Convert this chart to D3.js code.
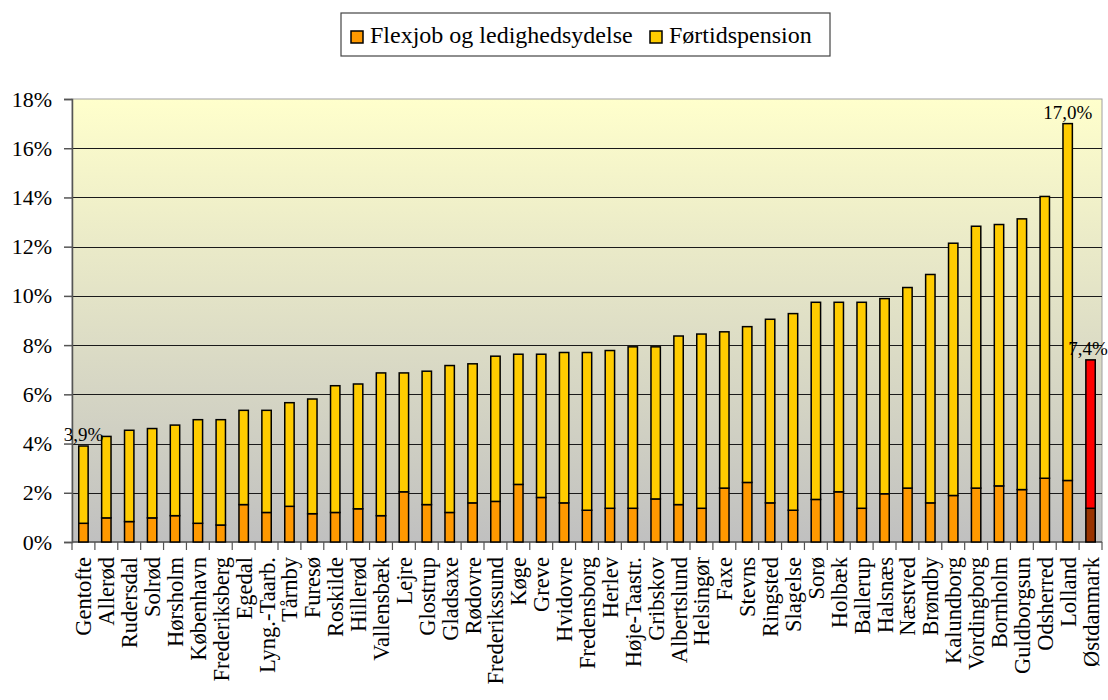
<!DOCTYPE html>
<meta charset="utf-8">
<script src="https://d3js.org/d3.v7.min.js"></script>
<style>
    body { margin: 0; background: #fff; }
    svg text { font-family: "Liberation Serif", "Times New Roman", serif !important; fill: #000; }
</style>
<body>
<div id="chart"></div>
<script>
    const kommuner = ["Gentofte", "Allerød", "Rudersdal", "Solrød", "Hørsholm", "København", "Frederiksberg",
        "Egedal", "Lyng.-Taarb.", "Tårnby", "Furesø", "Roskilde", "Hillerød", "Vallensbæk", "Lejre", "Glostrup",
        "Gladsaxe", "Rødovre", "Frederikssund", "Køge", "Greve", "Hvidovre", "Fredensborg", "Herlev",
        "Høje-Taastr.", "Gribskov", "Albertslund", "Helsingør", "Faxe", "Stevns", "Ringsted", "Slagelse", "Sorø",
        "Holbæk", "Ballerup", "Halsnæs", "Næstved", "Brøndby", "Kalundborg", "Vordingborg", "Bornholm",
        "Guldborgsun", "Odsherred", "Lolland", "Østdanmark"];

    // Flexjob og ledighedsydelse, pct. af befolkningen
    const flexjob = [0.76, 0.98, 0.83, 0.98, 1.07, 0.76, 0.69, 1.52, 1.20, 1.45, 1.15, 1.20, 1.35, 1.07, 2.04,
        1.52, 1.20, 1.59, 1.65, 2.34, 1.81, 1.59, 1.29, 1.37, 1.37, 1.75, 1.52, 1.37, 2.19, 2.42, 1.59, 1.29,
        1.73, 2.04, 1.37, 1.96, 2.19, 1.59, 1.89, 2.19, 2.28, 2.13, 2.59, 2.50, 1.37];

    // Førtidspension, pct. af befolkningen
    const fortid = [3.14, 3.31, 3.71, 3.63, 3.68, 4.21, 4.28, 3.83, 4.15, 4.21, 4.66, 5.15, 5.07, 5.80, 4.83,
        5.42, 5.97, 5.65, 5.90, 5.29, 5.82, 6.11, 6.41, 6.41, 6.56, 6.18, 6.85, 7.08, 6.35, 6.33, 7.46, 7.99,
        8.01, 7.70, 8.37, 7.93, 8.15, 9.28, 10.25, 10.64, 10.62, 11.00, 11.45, 14.50, 6.03];

    const yTicks = [0, 2, 4, 6, 8, 10, 12, 14, 16, 18];
    const labelled = ["Gentofte", "Lolland", "Østdanmark"];
    const total = "Østdanmark";

    const width = 1108, height = 700;
    const margin = {top: 99, right: 6, bottom: 158, left: 72};
    const innerW = width - margin.left - margin.right;
    const innerH = height - margin.top - margin.bottom;
    const serif = '"Liberation Serif", "Times New Roman", serif';

    const rows = kommuner.map((k, i) => ({name: k, flex: flexjob[i], fortid: fortid[i]}));
    const series = d3.stack().keys(["flex", "fortid"])(rows);

    const svg = d3.select("#chart").append("svg")
        .attr("width", width)
        .attr("height", height)
        .attr("font-family", serif);

    const defs = svg.append("defs");
    const grad = defs.append("linearGradient")
        .attr("id", "bg").attr("x1", 0).attr("y1", 0).attr("x2", 0).attr("y2", 1);
    grad.append("stop").attr("offset", "0%").attr("stop-color", "#ffffcc");
    grad.append("stop").attr("offset", "100%").attr("stop-color", "#c0c0c0");

    const g = svg.append("g").attr("transform", `translate(${margin.left},${margin.top})`);

    const x = d3.scaleBand().domain(kommuner).range([0, innerW]).paddingInner(0.59).paddingOuter(0.295);
    const y = d3.scaleLinear().domain([0, 18]).range([innerH, 0]);

    // plot area
    g.append("rect")
        .attr("width", innerW).attr("height", innerH)
        .attr("fill", "url(#bg)")
        .attr("stroke", "#a0a0a0").attr("stroke-width", 1);

    // gridlines
    g.append("g").selectAll("line")
        .data(yTicks.filter(d => d > 0 && d < 18))
        .join("line")
        .attr("x1", 0).attr("x2", innerW)
        .attr("y1", d => Math.round(y(d)) + 0.5).attr("y2", d => Math.round(y(d)) + 0.5)
        .attr("stroke", "#1a1a1a").attr("stroke-width", 1);

    // y axis
    const yAxis = g.append("g")
        .call(d3.axisLeft(y).tickValues(yTicks).tickFormat(d => d + "%").tickSize(8).tickPadding(12))
        .attr("font-family", serif);
    yAxis.selectAll("text").style("font-size", "22px").style("font-family", serif).attr("fill", "#000");
    yAxis.selectAll("line, path").attr("stroke", "#555").attr("stroke-width", 1.5);

    // x axis line + ticks at category boundaries
    const step = x.step();
    const xa = g.append("g").attr("transform", `translate(0,${innerH})`);
    xa.append("line").attr("x1", 0).attr("x2", innerW).attr("stroke", "#555").attr("stroke-width", 1.5);
    xa.selectAll("line.tk")
        .data(d3.range(kommuner.length + 1))
        .join("line").attr("class", "tk")
        .attr("x1", i => i * step).attr("x2", i => i * step)
        .attr("y1", 0).attr("y2", 8)
        .attr("stroke", "#555").attr("stroke-width", 1.2);
    xa.selectAll("text")
        .data(kommuner)
        .join("text")
        .attr("transform", d => `translate(${x(d) + x.bandwidth() / 2 + 8},15) rotate(-90)`)
        .attr("text-anchor", "end")
        .style("font-family", serif)
        .style("font-size", "22.5px")
        .text(d => d);

    // bars
    const colors = {flex: "#ff9900", fortid: "#ffcc00"};
    const totalColors = {flex: "#993300", fortid: "#ff0000"};
    g.append("g").selectAll("g")
        .data(series)
        .join("g")
        .selectAll("rect")
        .data(s => s.map(d => ({key: s.key, d})))
        .join("rect")
        .attr("x", v => x(v.d.data.name))
        .attr("y", v => y(v.d[1]))
        .attr("width", x.bandwidth())
        .attr("height", v => y(v.d[0]) - y(v.d[1]))
        .attr("fill", v => v.d.data.name === total ? totalColors[v.key] : colors[v.key])
        .attr("stroke", "#000").attr("stroke-width", 1.5);

    // data labels
    const fmt = v => d3.format(".1f")(v).replace(".", ",") + "%";
    g.append("g").selectAll("text")
        .data(rows.filter(r => labelled.includes(r.name)))
        .join("text")
        .attr("x", r => Math.min(x(r.name) + x.bandwidth() / 2, innerW - 14))
        .attr("y", r => y(r.flex + r.fortid) - 5)
        .attr("text-anchor", "middle")
        .style("font-family", serif)
        .style("font-size", "19px")
        .attr("fill", "#222")
        .text(r => fmt(r.flex + r.fortid));

    // legend
    const leg = svg.append("g").attr("transform", "translate(341,13)");
    leg.append("rect").attr("width", 489).attr("height", 43)
        .attr("fill", "#fff").attr("stroke", "#444").attr("stroke-width", 1.2);
    const items = [{key: "flex", label: "Flexjob og ledighedsydelse", x: 10},
                   {key: "fortid", label: "Førtidspension", x: 309}];
    const li = leg.selectAll("g").data(items).join("g")
        .attr("transform", d => `translate(${d.x},18)`);
    li.append("rect").attr("width", 12).attr("height", 12)
        .attr("fill", d => colors[d.key]).attr("stroke", "#000").attr("stroke-width", 1.5);
    li.append("text").attr("x", 19).attr("y", 12)
        .style("font-family", serif)
        .style("font-size", "24px")
        .text(d => d.label);
</script>
</body>
